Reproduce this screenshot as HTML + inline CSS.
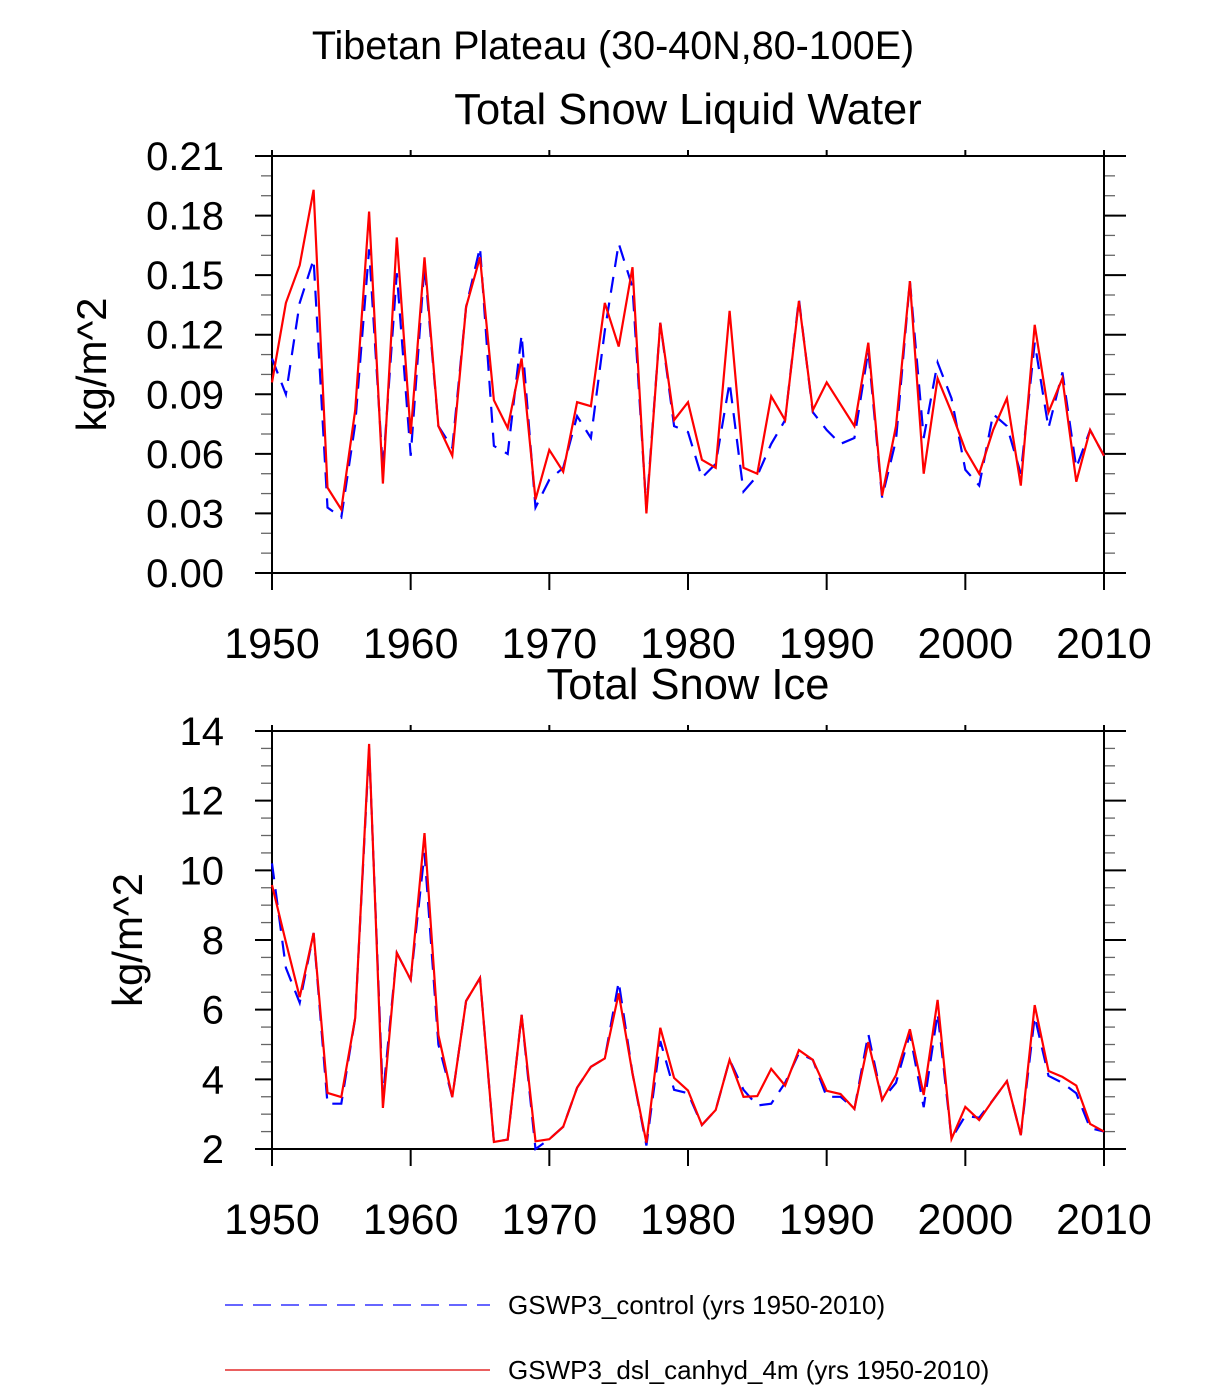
<!DOCTYPE html>
<html><head><meta charset="utf-8">
<style>
html,body{margin:0;padding:0;background:#fff;}
svg{display:block;font-family:"Liberation Sans",Arial,sans-serif;}
</style></head>
<body>
<svg id="chart" width="1224" height="1385" viewBox="0 0 1224 1385" xmlns="http://www.w3.org/2000/svg">
<text x="613" y="59" font-size="39.5" text-anchor="middle">Tibetan Plateau (30-40N,80-100E)</text>
<g id="p1"></g>
<g id="p2"></g>
<g>
<line x1="225" y1="1305" x2="490" y2="1305" stroke="#3333ff" stroke-width="1.5" stroke-dasharray="18,10"/>
<text x="508" y="1314" font-size="26">GSWP3_control (yrs 1950-2010)</text>
<line x1="225" y1="1370" x2="490" y2="1370" stroke="#dd0000" stroke-width="1.2"/>
<text x="508" y="1379" font-size="26">GSWP3_dsl_canhyd_4m (yrs 1950-2010)</text>
</g>
</svg>
<script>
const years = [];
for (let y = 1950; y <= 2010; y++) years.push(y);
const xTickLabels = ["1950","1960","1970","1980","1990","2000","2010"];
const liquidTickLabels = ["0.00","0.03","0.06","0.09","0.12","0.15","0.18","0.21"];
const iceTickLabels = ["2","4","6","8","10","12","14"];

const liquidDsl = [0.096,0.136,0.155,0.193,0.043,0.032,0.082,0.182,0.045,0.169,0.070,0.159,0.074,0.059,0.134,0.159,0.087,0.073,0.108,0.037,0.062,0.051,0.086,0.084,0.136,0.114,0.154,0.030,0.126,0.077,0.086,0.057,0.053,0.132,0.053,0.050,0.089,0.077,0.137,0.082,0.096,0.085,0.074,0.116,0.039,0.074,0.147,0.050,0.098,0.081,0.062,0.050,0.072,0.088,0.044,0.125,0.081,0.098,0.046,0.072,0.059];
const liquidControl = [0.108,0.090,0.136,0.158,0.033,0.028,0.075,0.163,0.052,0.151,0.059,0.155,0.074,0.063,0.134,0.164,0.064,0.060,0.120,0.033,0.047,0.053,0.079,0.068,0.122,0.166,0.144,0.032,0.126,0.074,0.071,0.048,0.055,0.096,0.041,0.049,0.065,0.077,0.138,0.081,0.072,0.065,0.068,0.112,0.038,0.067,0.147,0.068,0.106,0.088,0.052,0.044,0.080,0.074,0.050,0.116,0.073,0.101,0.053,0.072,0.059];
const iceDsl = [9.58,7.94,6.36,8.20,3.61,3.49,5.76,13.63,3.18,7.63,6.86,11.07,5.27,3.49,6.25,6.91,2.20,2.27,5.85,2.22,2.28,2.64,3.76,4.36,4.60,6.47,4.17,2.18,5.48,4.04,3.68,2.69,3.12,4.56,3.50,3.52,4.30,3.82,4.84,4.56,3.67,3.58,3.15,5.07,3.41,4.12,5.44,3.55,6.28,2.29,3.21,2.83,3.41,3.95,2.40,6.13,4.24,4.07,3.82,2.72,2.50];
const iceControl = [10.2,7.2,6.2,8.20,3.3,3.3,5.76,13.5,3.5,7.63,6.86,10.5,5.0,3.49,6.25,6.91,2.20,2.27,5.85,2.0,2.28,2.64,3.76,4.36,4.60,6.8,4.17,2.1,5.1,3.7,3.6,2.69,3.12,4.56,3.7,3.25,3.3,3.9,4.75,4.56,3.5,3.5,3.15,5.3,3.41,3.9,5.3,3.2,5.9,2.3,2.95,2.9,3.41,3.95,2.4,5.8,4.1,3.9,3.6,2.6,2.5];

const NS = "http://www.w3.org/2000/svg";
function mk(parent, tag, attrs) {
  const e = document.createElementNS(NS, tag);
  for (const k in attrs) e.setAttribute(k, attrs[k]);
  parent.appendChild(e);
  return e;
}

function panel(g, cfg) {
  const L = 272, R = 1104, T = cfg.top, B = cfg.bottom;
  const xs = v => L + (v - 1950) / 60 * (R - L);
  const ys = v => B - (v - cfg.ymin) / (cfg.ymax - cfg.ymin) * (B - T);

  const title = mk(g, "text", {x: 688, y: T - 32, "font-size": 43.5, "text-anchor": "middle"});
  title.textContent = cfg.title;
  
  

  const yt = mk(g, "text", {x: cfg.ytitleX, y: (T + B) / 2, "font-size": 42, "text-anchor": "middle", transform: `rotate(-90 ${cfg.ytitleX} ${(T + B) / 2})`});
  yt.textContent = "kg/m^2";
  
  

  for (let v = cfg.ymin; v <= cfg.ymax + 1e-9; v += cfg.minor) {
    const y = ys(v);
    const t1 = mk(g, "line", {x1: L - 11, x2: L, y1: y, y2: y, stroke: "#666", "stroke-width": 1.3});
    
    
    const t2 = mk(g, "line", {x1: R, x2: R + 11, y1: y, y2: y, stroke: "#666", "stroke-width": 1.3});
    
    
  }
  cfg.labels.forEach(lab => {
    const v = parseFloat(lab), y = ys(v);
    const t1 = mk(g, "line", {x1: L - 17, x2: L, y1: y, y2: y, stroke: "#000", "stroke-width": 2});
    
    
    const t2 = mk(g, "line", {x1: R, x2: R + 22, y1: y, y2: y, stroke: "#000", "stroke-width": 2});
    
    
    const tx = mk(g, "text", {x: 224, y: y + 14, "font-size": 40, "text-anchor": "end"});
    tx.textContent = lab;
    
    
  });
  xTickLabels.forEach(lab => {
    const x = xs(parseFloat(lab));
    const t1 = mk(g, "line", {x1: x, x2: x, y1: B, y2: B + 17, stroke: "#000", "stroke-width": 2});
    
    
    const t2 = mk(g, "line", {x1: x, x2: x, y1: T - 6, y2: T, stroke: "#000", "stroke-width": 2});
    
    
    const tx = mk(g, "text", {x: x, y: B + 85, "font-size": 43, "text-anchor": "middle"});
    tx.textContent = lab;
    
    
  });
  const fr = mk(g, "rect", {x: L, y: T, width: R - L, height: B - T, fill: "none", stroke: "#000", "stroke-width": 2});
  
  

  const line = (vals, color, dash, name) => {
    const pts = vals.map((v, i) => xs(years[i]).toFixed(1) + "," + ys(v).toFixed(1)).join(" ");
    const p = mk(g, "polyline", {points: pts, fill: "none", stroke: color, "stroke-width": 2.2, "stroke-linejoin": "miter"});
    if (dash) p.setAttribute("stroke-dasharray", dash);
    
    
  };
  line(cfg.control, "#0000ff", "16,10", "control-series-line");
  line(cfg.dsl, "#ff0000", null, "dsl-series-line");
}

panel(document.getElementById("p1"), {top: 156, bottom: 573, ymin: 0, ymax: 0.21, minor: 0.01, labels: liquidTickLabels, title: "Total Snow Liquid Water", ytitleX: 106, control: liquidControl, dsl: liquidDsl});
panel(document.getElementById("p2"), {top: 731, bottom: 1149, ymin: 2, ymax: 14, minor: 0.5, labels: iceTickLabels, title: "Total Snow Ice", ytitleX: 142, control: iceControl, dsl: iceDsl});
</script>
</body></html>
